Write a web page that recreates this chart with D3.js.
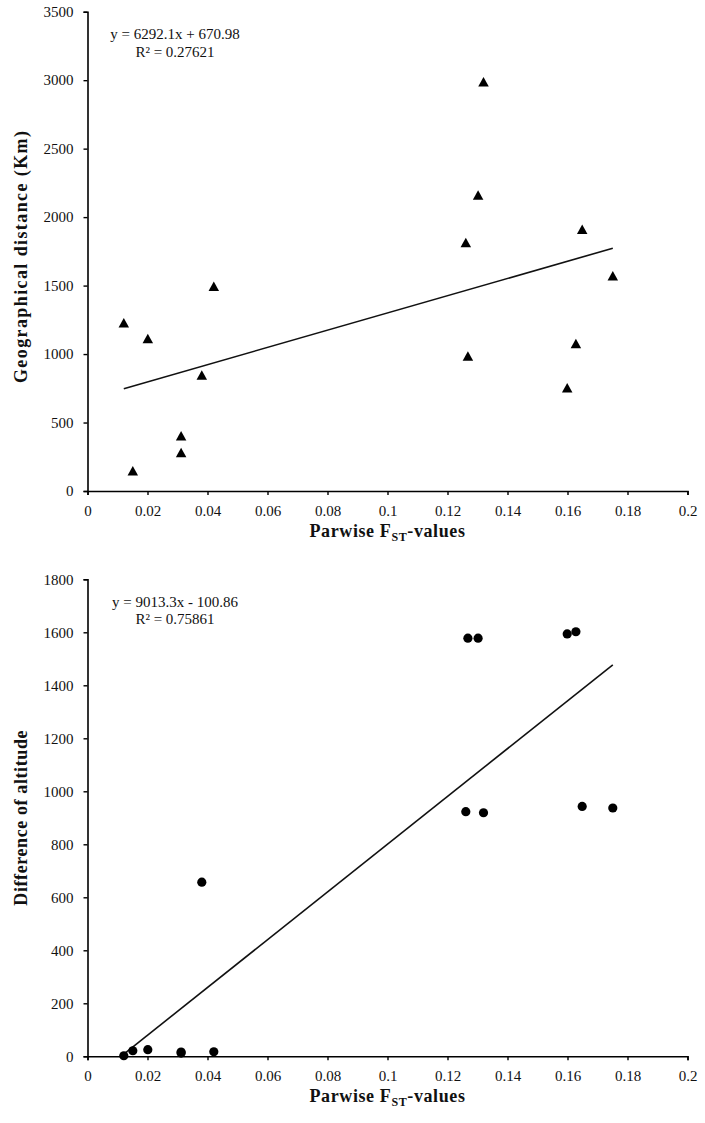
<!DOCTYPE html>
<html>
<head>
<meta charset="utf-8">
<script src="https://cdn.jsdelivr.net/npm/d3@7"></script>
<style>
  html, body { margin: 0; padding: 0; background: #fff; }
  svg { display: block; }
  text { font-family: "Liberation Serif", serif; fill: #111; }
</style>
</head>
<body>
<svg id="chart" width="705" height="1123"></svg>
<script>
// ---- data ----
const fst = [0.0121, 0.0151, 0.0201, 0.0312, 0.0312, 0.0381, 0.0421, 0.1261, 0.1268, 0.1302, 0.1320, 0.1599, 0.1628, 0.1649, 0.1751];
const geoDistance = [1228, 148, 1114, 404, 282, 847, 1496, 1815, 985, 2161, 2988, 754, 1078, 1912, 1572];
const altitudeDiff = [2, 21, 25, 16, 12, 657, 17, 923, 1578, 1578, 919, 1594, 1602, 943, 937];
const xTicks = [0, 0.02, 0.04, 0.06, 0.08, 0.1, 0.12, 0.14, 0.16, 0.18, 0.2];
const geoTicks = [0, 500, 1000, 1500, 2000, 2500, 3000, 3500];
const altTicks = [0, 200, 400, 600, 800, 1000, 1200, 1400, 1600, 1800];
const trendGeo = { slope: 6292.1, intercept: 670.98 };
const trendAlt = { slope: 9013.3, intercept: -100.86 };
const eqGeo = ["y = 6292.1x + 670.98", "R² = 0.27621"];
const eqAlt = ["y = 9013.3x - 100.86", "R² = 0.75861"];
const yTitleGeo = "Geographical distance (Km)";
const yTitleAlt = "Difference of altitude";

const svg = d3.select("#chart");

function panel(opts) {
  const { top, bottom, yDomainMax, yTicks, yValues, trend, eq, yTitle, marker, titleShift, titleSpacing } = opts;
  const left = 87.5, right = 687.5;
  const x = d3.scaleLinear().domain([0, 0.2]).range([left, right]);
  const y = d3.scaleLinear().domain([0, yDomainMax]).range([bottom, top]);
  const g = svg.append("g");

  // y axis
  const ya = g.append("g").attr("transform", `translate(${left},0)`)
    .call(d3.axisLeft(y).tickValues(yTicks).tickSize(4).tickPadding(10).tickFormat(d3.format("d")));
  ya.select(".domain").attr("stroke", "#000").attr("stroke-width", 1.6);
  ya.selectAll(".tick line").attr("stroke", "#000").attr("stroke-width", 1.4);
  ya.selectAll("text").style("font-family", "Liberation Serif").style("font-size", "15px").attr("fill", "#1a1a1a");

  // x axis
  const xa = g.append("g").attr("transform", `translate(0,${bottom})`)
    .call(d3.axisBottom(x).tickValues(xTicks).tickSize(4).tickPadding(10).tickFormat(d => d3.format("")(+d.toFixed(2))));
  xa.select(".domain").attr("stroke", "#000").attr("stroke-width", 1.6);
  xa.selectAll(".tick line").attr("stroke", "#000").attr("stroke-width", 1.4);
  xa.selectAll("text").style("font-family", "Liberation Serif").style("font-size", "15px").attr("fill", "#1a1a1a");

  // trend line
  const xmin = d3.min(fst), xmax = d3.max(fst);
  const line = d3.line().x(d => x(d)).y(d => y(trend.slope * d + trend.intercept));
  g.append("path").datum([xmin, xmax]).attr("d", line)
    .attr("stroke", "#111").attr("stroke-width", 1.6).attr("fill", "none");

  // markers
  const pts = fst.map((f, i) => ({ f, v: yValues[i] }));
  if (marker === "triangle") {
    const w = 10.5, h = 9.5;
    g.selectAll("path.pt").data(pts).join("path").attr("class", "pt")
      .attr("d", `M0,${-h/2}L${w/2},${h/2}L${-w/2},${h/2}Z`)
      .attr("transform", d => `translate(${x(d.f)},${y(d.v)})`)
      .attr("fill", "#000");
  } else {
    g.selectAll("circle.pt").data(pts).join("circle").attr("class", "pt")
      .attr("cx", d => x(d.f)).attr("cy", d => y(d.v)).attr("r", 4.6)
      .attr("fill", "#000");
  }

  // equation
  const et = g.append("text").attr("text-anchor", "middle").style("font-size", "15px");
  et.append("tspan").attr("x", 175).attr("y", top + 27.5).text(eq[0]);
  et.append("tspan").attr("x", 175).attr("y", top + 44.8).text(eq[1]);

  // y title
  g.append("text")
    .attr("transform", `translate(26.5,${(top + bottom) / 2 + titleShift}) rotate(-90)`)
    .attr("text-anchor", "middle")
    .style("font-weight", "bold").style("font-size", "18px").style("letter-spacing", titleSpacing + "px")
    .text(yTitle);

  // x title
  const xt = g.append("text")
    .attr("x", (left + right) / 2).attr("y", bottom + 46)
    .attr("text-anchor", "middle")
    .style("font-weight", "bold").style("font-size", "18px").style("letter-spacing", "0.6px");
  xt.append("tspan").text("Parwise F");
  xt.append("tspan").attr("dy", 4).style("font-size", "12px").text("ST");
  xt.append("tspan").attr("dy", -4).text("-values");
}

panel({ top: 11.7, bottom: 491, yDomainMax: 3500, yTicks: geoTicks, yValues: geoDistance,
        trend: trendGeo, eq: eqGeo, yTitle: yTitleGeo, marker: "triangle", titleShift: 5, titleSpacing: 1.4 });
panel({ top: 579.3, bottom: 1056.3, yDomainMax: 1800, yTicks: altTicks, yValues: altitudeDiff,
        trend: trendAlt, eq: eqAlt, yTitle: yTitleAlt, marker: "circle", titleShift: 0, titleSpacing: 0.6 });
</script>
</body>
</html>
